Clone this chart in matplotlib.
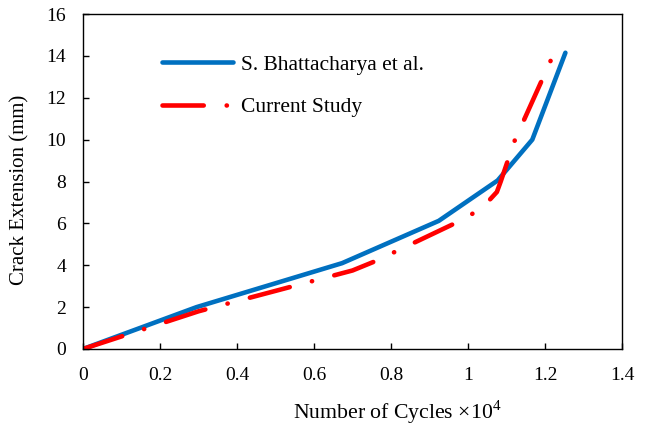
import matplotlib
matplotlib.use("Agg")
import matplotlib.pyplot as plt

plt.rcParams['font.family'] = ['Liberation Serif', 'DejaVu Serif']
plt.rcParams['mathtext.fontset'] = 'custom'
plt.rcParams['mathtext.rm'] = 'Liberation Serif'

blue_x = [0, 0.295, 0.673, 0.924, 1.077, 1.167, 1.253]
blue_y = [0, 2.0, 4.1, 6.12, 8.05, 10.0, 14.15]
red_x = [0, 0.3, 0.7, 0.76, 1.0, 1.05, 1.075, 1.085, 1.12, 1.224]
red_y = [0, 1.8, 3.75, 4.2, 6.3, 7.0, 7.5, 8.0, 9.9, 14.15]
x_ticks = [0, 0.2, 0.4, 0.6, 0.8, 1.0, 1.2, 1.4]
x_labels = ["0", "0.2", "0.4", "0.6", "0.8", "1", "1.2", "1.4"]
y_ticks = [0, 2, 4, 6, 8, 10, 12, 14, 16]

fig = plt.figure(figsize=(6.49, 4.30), dpi=100)
ax = fig.add_axes([0.1279, 0.1884, 0.8305, 0.7790])

ax.plot(blue_x, blue_y, color='#0070C0', lw=3.3, solid_capstyle='round',
        solid_joinstyle='round', label='S. Bhattacharya et al.')
ax.plot(red_x, red_y, color='#FF0000', lw=3.3, linestyle=(0, (9, 5, 0.05, 5)),
        dash_capstyle='round', dash_joinstyle='round', label='Current Study')

ax.set_xlim(0, 1.4)
ax.set_ylim(0, 16)
ax.set_xticks(x_ticks)
ax.set_xticklabels(x_labels)
ax.set_yticks(y_ticks)
ax.tick_params(direction='in', length=4, width=1, labelsize=14, colors='black')
ax.tick_params(axis='x', pad=13)
ax.tick_params(axis='y', pad=12)
for s in ax.spines.values():
    s.set_linewidth(1.0)
    s.set_color('black')

ax.set_xlabel('Number of Cycles ×10$^4$', fontsize=15.7, labelpad=10)
ax.xaxis.label.set_x(0.583)
ax.set_ylabel('Crack Extension (mm)', fontsize=15, labelpad=12)
ax.yaxis.label.set_y(0.475)

leg = ax.legend(loc='upper left', bbox_to_anchor=(0.13, 0.905), frameon=False,
                fontsize=15.5, handlelength=3.3, labelspacing=1.05, handletextpad=0.4,
                borderaxespad=0)

fig.savefig('out.png', dpi=100)
